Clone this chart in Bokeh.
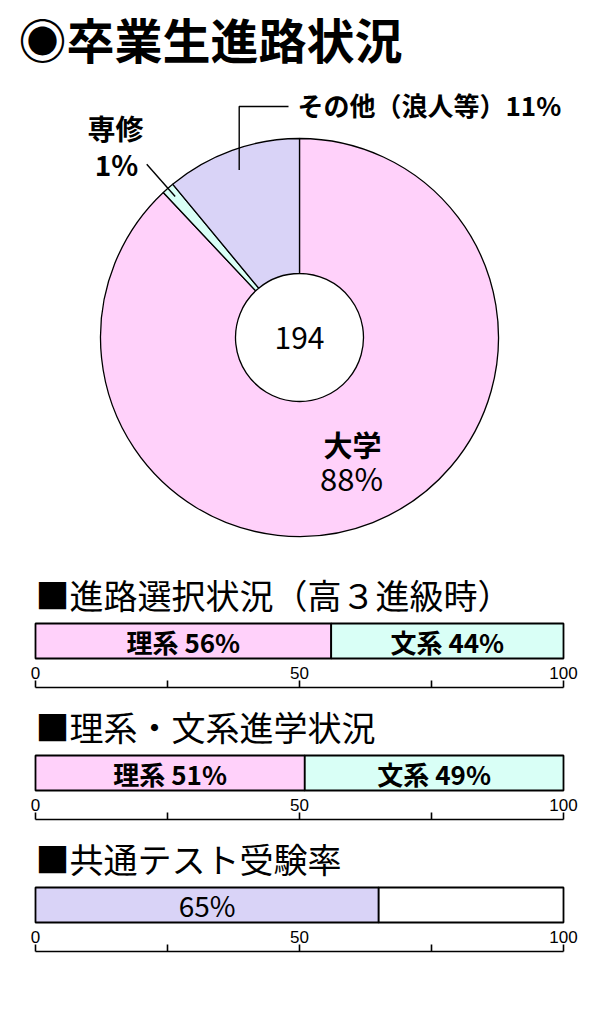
import math
from bokeh.plotting import figure
from bokeh.models import Range1d, LinearAxis, FixedTicker, ColumnDataSource
from bokeh.core.properties import value
from bokeh.embed import file_html
from bokeh.resources import INLINE

# ---------------- data ----------------
main_title = "◉卒業生進路状況"
total_count = 194
pie_names = ["大学", "専修", "その他（浪人等）"]
pie_values = [88, 1, 11]
pie_colors = ["#FFD1FA", "#D9FFF6", "#D9D3F7"]

sec_titles = ["■進路選択状況（高３進級時）", "■理系・文系進学状況", "■共通テスト受験率"]
sec1_names = ["理系", "文系"]
sec1_values = [56, 44]
sec2_names = ["理系", "文系"]
sec2_values = [51, 49]
sec3_names = ["", ""]
sec3_values = [65, 35]
sec3_show = [True, False]
bar_colors_12 = ["#FFD1FA", "#D9FFF6"]
bar_colors_3 = ["#D9D3F7", "#FFFFFF"]
axis_ticks = [0, 25, 50, 75, 100]
axis_hidden = [25, 75]

# ---------------- figure ----------------
W, H = 586, 998
FONT = "Noto Sans CJK JP"


def Y(wy):
    # picture y (from top) -> data y (from bottom)
    return H - wy


def X(wx):
    return wx


p = figure(width=W, height=H, x_range=Range1d(0, W), y_range=Range1d(0, H),
           output_backend="svg", toolbar_location=None,
           x_axis_type=None, y_axis_type=None, min_border=0,
           outline_line_color=None)
p.background_fill_color = "white"
p.border_fill_color = "white"

px_per_pct = 5.28
left_px = X(35)
p.extra_x_ranges = {"pct": Range1d(-left_px / px_per_pct, (W - left_px) / px_per_pct)}


def txt(x, y, s, size, bold=False, align="left", xr="default", font=FONT):
    p.text(x=[x], y=[y], text=[s], text_font=value(font), text_font_size=size,
           text_font_style="bold" if bold else "normal", text_align=align,
           text_baseline="middle", text_color="black", x_range_name=xr)


# title
txt(X(18), Y(37), main_title, "48px", bold=True)

# ---------------- donut ----------------
cx, cy = X(299), Y(337)
R_out, R_in = 199, 64
starts, ends = [], []
cum = 0
for v in pie_values:
    starts.append(math.pi / 2 - 2 * math.pi * cum / 100)
    cum += v
    ends.append(math.pi / 2 - 2 * math.pi * cum / 100)
src = ColumnDataSource(dict(start=starts, end=ends, color=pie_colors,
                            name=pie_names, value=pie_values))
p.annular_wedge(x=cx, y=cy, inner_radius=R_in, outer_radius=R_out,
                start_angle="start", end_angle="end", direction="clock",
                fill_color="color", line_color="black", line_width=1.3, source=src)

txt(cx, cy, str(total_count), "30px", align="center")

# 大学
txt(X(352), Y(443), pie_names[0], "29px", bold=True, align="center")
txt(X(351), Y(477), f"{pie_values[0]}%", "31px", align="center")

# 専修 with radial leader
a1 = (starts[1] + ends[1]) / 2
p.line(x=[cx + 188 * math.cos(a1), cx + 231 * math.cos(a1)],
       y=[cy + 188 * math.sin(a1), cy + 231 * math.sin(a1)],
       line_color="black", line_width=1.4)
txt(X(115), Y(127), pie_names[1], "28px", bold=True, align="center")
txt(X(116), Y(163), f"{pie_values[1]}%", "28px", bold=True, align="center")

# その他 with elbow leader
a2 = (starts[2] + ends[2]) / 2
ax0, ay0 = cx + 178 * math.cos(a2), cy + 178 * math.sin(a2)
p.line(x=[ax0, ax0, X(288)], y=[ay0, Y(106), Y(106)], line_color="black", line_width=1.4)
txt(X(297), Y(104), f"{pie_names[2]}{pie_values[2]}%", "26px", bold=True)

# ---------------- bar sections ----------------
sections = [
    (sec_titles[0], sec1_names, sec1_values, bar_colors_12, [True, True], 594, 640.5, 687),
    (sec_titles[1], sec2_names, sec2_values, bar_colors_12, [True, True], 726, 772.5, 819),
    (sec_titles[2], sec3_names, sec3_values, bar_colors_3, sec3_show, 858, 904.5, 951),
]

for title, names, vals, cols, show, wy_t, wy_b, wy_a in sections:
    txt(X(35), Y(wy_t), title, "34px")
    lefts, rights = [], []
    c = 0
    for v in vals:
        lefts.append(c)
        c += v
        rights.append(c)
    p.hbar(y=Y(wy_b), height=35, left=lefts, right=rights, fill_color=cols,
           line_color="black", line_width=1.8, x_range_name="pct")
    for n, v, l, r, s in zip(names, vals, lefts, rights, show):
        if not s:
            continue
        label = f"{n} {v}%" if n else f"{v}%"
        txt((l + r) / 2, Y(wy_b), label, "26px" if n else "28px",
            bold=bool(n), align="center", xr="pct")
    ax = LinearAxis(x_range_name="pct", fixed_location=Y(wy_a),
                    ticker=FixedTicker(ticks=axis_ticks), bounds=(0, 100),
                    major_label_overrides={t: "" for t in axis_hidden},
                    major_tick_in=0, major_tick_out=7, minor_tick_line_color=None,
                    axis_line_color="black", axis_line_width=1.6,
                    major_tick_line_color="black", major_tick_line_width=1.6,
                    major_label_standoff=2, major_label_text_font_size="17px",
                    major_label_text_font="Liberation Sans",
                    major_label_text_color="black")
    p.add_layout(ax, "above")

open("out.html", "w").write(file_html(p, INLINE))
